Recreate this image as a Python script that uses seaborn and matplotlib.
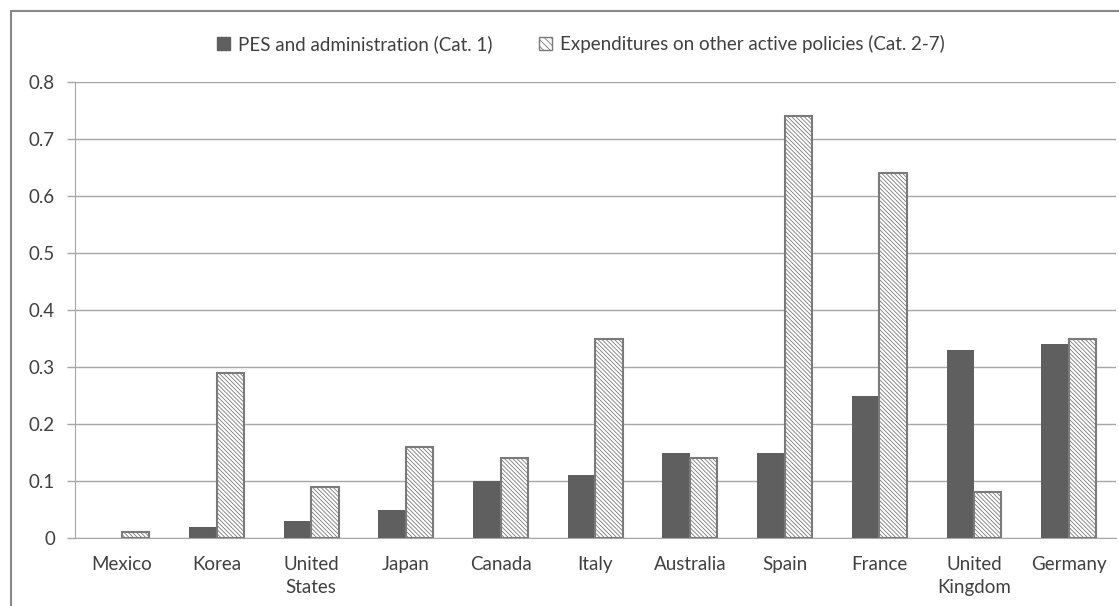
import pandas as pd
import matplotlib.pyplot as plt
import seaborn as sns
from matplotlib.patches import Patch, Rectangle


# =========================================
# DATA
# =========================================

countries = ["Mexico", "Korea", "United\nStates", "Japan", "Canada", "Italy",
             "Australia", "Spain", "France", "United\nKingdom", "Germany"]

pes_admin = [0.00, 0.02, 0.03, 0.05, 0.10, 0.11, 0.15, 0.15, 0.25, 0.33, 0.34]

other_active = [0.01, 0.29, 0.09, 0.16, 0.14, 0.35, 0.14, 0.74, 0.64, 0.08, 0.35]

series_names = ["PES and administration (Cat. 1)",
                "Expenditures on other active policies (Cat. 2-7)"]

y_ticks = [0, 0.1, 0.2, 0.3, 0.4, 0.5, 0.6, 0.7, 0.8]
y_tick_labels = ["0", "0.1", "0.2", "0.3", "0.4", "0.5", "0.6", "0.7", "0.8"]

df = pd.DataFrame({
    "country": countries * 2,
    "value": pes_admin + other_active,
    "series": [series_names[0]] * len(countries) + [series_names[1]] * len(countries),
})


# =========================================
# STYLE
# =========================================

sns.set_style("white")
plt.rcParams["font.family"] = ["Lato", "DejaVu Sans"]
plt.rcParams["hatch.linewidth"] = 0.6

dark = "#5f5f5f"
edge = "#7a7a7a"
grid = "#a6a6a6"
text_color = "#404040"
font_size = 13.5


# =========================================
# PLOT
# =========================================

fig = plt.figure(figsize=(11.19, 6.06), dpi=100)
ax = fig.add_axes([0.0666, 0.1122, 0.9307, 0.7525])

sns.barplot(
    data=df,
    x="country",
    y="value",
    hue="series",
    palette=[dark, "white"],
    width=0.58,
    legend=False,
    ax=ax,
)

for bar in ax.containers[0]:
    bar.set_edgecolor(dark)
    bar.set_linewidth(0)

for bar in ax.containers[1]:
    bar.set_edgecolor(edge)
    bar.set_linewidth(1.5)
    bar.set_hatch("\\\\\\\\\\\\\\\\")

ax.set_ylim(0, 0.8)
ax.set_xlim(-0.5, len(countries) - 0.5)
ax.set_yticks(y_ticks)
ax.set_yticklabels(y_tick_labels)
ax.set_xlabel("")
ax.set_ylabel("")

for label in ax.get_xticklabels():
    label.set_linespacing(1.45)

ax.yaxis.grid(True, color=grid, linewidth=1)
ax.set_axisbelow(True)

ax.set_xticks([i - 0.5 for i in range(len(countries) + 1)], minor=True)
ax.tick_params(axis="x", which="major", length=0, pad=13,
               labelsize=font_size, labelcolor=text_color)
ax.tick_params(axis="x", which="minor", length=6, color=grid, width=1)
ax.tick_params(axis="y", which="major", left=True, length=6, color=grid,
               width=1, pad=8, labelsize=font_size, labelcolor=text_color)

for side in ["top", "right"]:
    ax.spines[side].set_visible(False)
ax.spines["left"].set_color(grid)
ax.spines["bottom"].set_color(grid)


# =========================================
# LEGEND
# =========================================

handles = [
    Patch(facecolor=dark, edgecolor=dark, label=series_names[0]),
    Patch(facecolor="white", edgecolor=edge, hatch="\\\\\\\\\\", label=series_names[1]),
]

fig.legend(
    handles=handles,
    loc="center",
    bbox_to_anchor=(0.519, 0.927),
    ncol=2,
    frameon=False,
    fontsize=font_size,
    labelcolor=text_color,
    handlelength=0.7,
    handleheight=0.7,
    handletextpad=0.4,
    columnspacing=2.5,
)


# =========================================
# OUTER BORDER
# =========================================

fig.patches.append(Rectangle(
    (11 / 1119, -0.1), 1.2, 1 - 11 / 606 + 0.1,
    transform=fig.transFigure, fill=False, edgecolor="#888888", linewidth=1.5,
))

plt.savefig("out.png", dpi=100)
